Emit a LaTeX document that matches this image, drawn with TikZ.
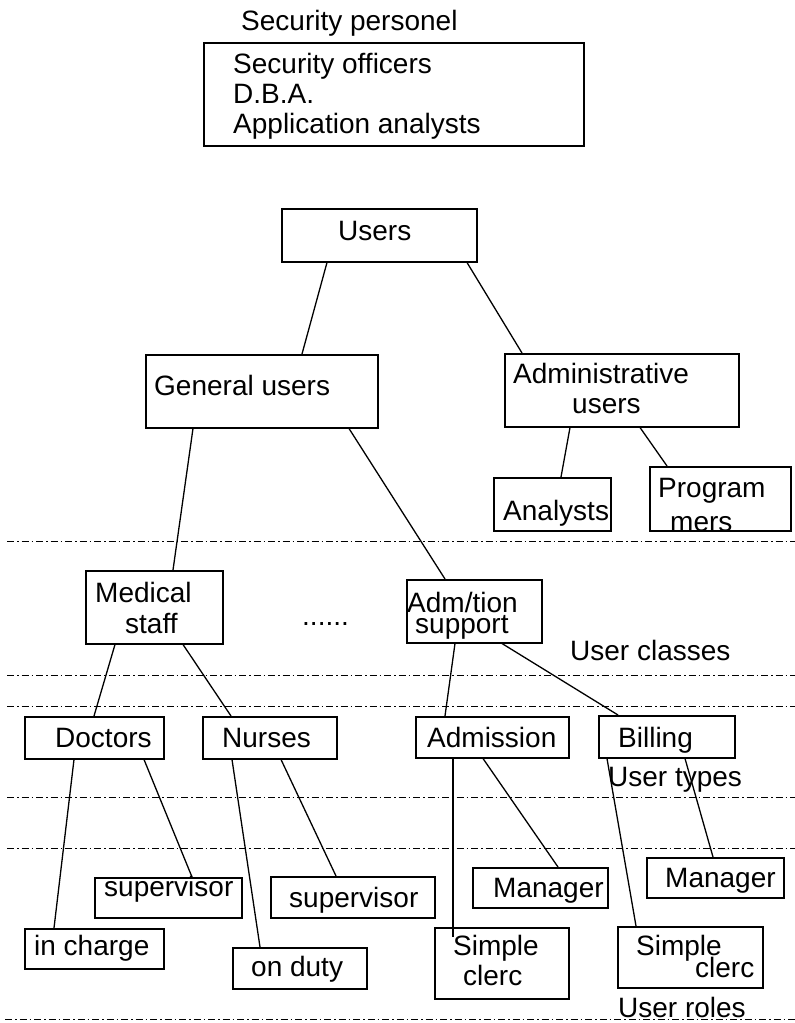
\documentclass[tikz,border=0pt]{standalone}
\usepackage{fontspec}
\setmainfont{Liberation Sans}
\usetikzlibrary{calc}
\newcommand\dfont{\fontsize{28}{30}\selectfont}
\begin{document}
\begin{tikzpicture}[x=1pt,y=-1pt,
  box/.style={draw,line width=1.5pt,inner sep=0pt,anchor=north west},
  txt/.style={anchor=base west,inner sep=0pt,font=\dfont},
  conn/.style={line width=1.3pt},
  sepline/.style={line width=0.8pt,dash pattern=on 7pt off 3pt on 1.5pt off 3pt}]
\useasboundingbox (0,0) rectangle (795,1023);
% separator lines
\draw[sepline] (7,541) -- (795,541);
\draw[sepline] (7,675) -- (795,675);
\draw[sepline] (7,706) -- (795,706);
\draw[sepline] (7,797) -- (795,797);
\draw[sepline] (7,848) -- (795,848);
\draw[sepline] (5,1019) -- (795,1019);
% boxes
\node[box,minimum width=380pt,minimum height=103pt] (secbox) at (203,42) {};
\node[box,minimum width=195pt,minimum height=53pt] (users) at (281,208) {};
\node[box,minimum width=232pt,minimum height=73pt] (gen) at (145,354) {};
\node[box,minimum width=234pt,minimum height=73pt] (admin) at (504,353) {};
\node[box,minimum width=117pt,minimum height=53pt] (analysts) at (493,477) {};
\node[box,minimum width=141pt,minimum height=64pt] (prog) at (649,466) {};
\node[box,minimum width=137pt,minimum height=73pt] (medical) at (85,570) {};
\node[box,minimum width=135pt,minimum height=63pt] (admtion) at (406,579) {};
\node[box,minimum width=139pt,minimum height=42pt] (doctors) at (24,716) {};
\node[box,minimum width=134pt,minimum height=42pt] (nurses) at (202,716) {};
\node[box,minimum width=153pt,minimum height=41pt] (admission) at (415,716) {};
\node[box,minimum width=136pt,minimum height=42pt] (billing) at (598,715) {};
\node[box,minimum width=147pt,minimum height=40pt] (supa) at (94,877) {};
\node[box,minimum width=164pt,minimum height=41pt] (supb) at (270,876) {};
\node[box,minimum width=139pt,minimum height=40pt] (incharge) at (24,928) {};
\node[box,minimum width=134pt,minimum height=41pt] (onduty) at (232,947) {};
\node[box,minimum width=135pt,minimum height=40pt] (mana) at (472,867) {};
\node[box,minimum width=134pt,minimum height=71pt] (clerca) at (434,927) {};
\node[box,minimum width=137pt,minimum height=40pt] (manb) at (646,857) {};
\node[box,minimum width=145pt,minimum height=61pt] (clercb) at (617,926) {};
% connectors
\draw[conn] ([xshift=46pt]users.south west) -- ([xshift=157pt]gen.north west);
\draw[conn] ([xshift=186pt]users.south west) -- ([xshift=18pt]admin.north west);
\draw[conn] ([xshift=48pt]gen.south west) -- ([xshift=88pt]medical.north west);
\draw[conn] ([xshift=204pt]gen.south west) -- ([xshift=39pt]admtion.north west);
\draw[conn] ([xshift=66pt]admin.south west) -- ([xshift=68pt]analysts.north west);
\draw[conn] ([xshift=136pt]admin.south west) -- ([xshift=18pt]prog.north west);
\draw[conn] ([xshift=30pt]medical.south west) -- ([xshift=70pt]doctors.north west);
\draw[conn] ([xshift=98pt]medical.south west) -- ([xshift=29pt]nurses.north west);
\draw[conn] ([xshift=49pt]admtion.south west) -- ([xshift=30pt]admission.north west);
\draw[conn] ([xshift=96pt]admtion.south west) -- ([xshift=20pt]billing.north west);
\draw[conn] ([xshift=50pt]doctors.south west) -- ([xshift=30pt]incharge.north west);
\draw[conn] ([xshift=120pt]doctors.south west) -- ([xshift=98pt]supa.north west);
\draw[conn] ([xshift=30pt]nurses.south west) -- ([xshift=28pt]onduty.north west);
\draw[conn] ([xshift=79pt]nurses.south west) -- ([xshift=66pt]supb.north west);
\draw[conn] ([xshift=38pt]admission.south west) -- ([xshift=19pt,yshift=-10pt]clerca.north west);
\draw[conn] ([xshift=68pt]admission.south west) -- ([xshift=86pt]mana.north west);
\draw[conn] ([xshift=9pt]billing.south west) -- ([xshift=19pt]clercb.north west);
\draw[conn] ([xshift=87pt]billing.south west) -- ([xshift=67pt]manb.north west);
% texts
\node[txt] (tsecp) at (241,30) {Security personel};
\node[txt] (tseco) at (233,73) {Security officers};
\node[txt] (tdba) at (233,103) {D.B.A.};
\node[txt] (tappa) at (233,133) {Application analysts};
\node[txt] (tusers) at (338,240) {Users};
\node[txt] (tgen) at (154,395) {General users};
\node[txt] (tadm1) at (513,383) {Administrative};
\node[txt] (tadm2) at (572,413) {users};
\node[txt] (tanal) at (503,520) {Analysts};
\node[txt] (tprog1) at (658,497) {Program};
\node[txt] (tprog2) at (670,531) {mers};
\node[txt] (tmed1) at (95,602) {Medical};
\node[txt] (tmed2) at (125,633) {staff};
\node[txt] (tdots) at (302,625) {......};
\node[txt] (tadt1) at (407,612) {Adm/tion};
\node[txt] (tadt2) at (415,633) {support};
\node[txt] (tclasses) at (570,660) {User classes};
\node[txt] (tdoc) at (55,747) {Doctors};
\node[txt] (tnur) at (222,747) {Nurses};
\node[txt] (tadmis) at (427,747) {Admission};
\node[txt] (tbill) at (618,747) {Billing};
\node[txt] (ttypes) at (608,786) {User types};
\node[txt] (tsupa) at (104,896) {supervisor};
\node[txt] (tsupb) at (289,907) {supervisor};
\node[txt] (tinch) at (34,955) {in charge};
\node[txt] (tond) at (251,976) {on duty};
\node[txt] (tmana) at (493,897) {Manager};
\node[txt] (tsimpa) at (453,955) {Simple};
\node[txt] (tclea) at (463,985) {clerc};
\node[txt] (tmanb) at (665,887) {Manager};
\node[txt] (tsimpb) at (636,955) {Simple};
\node[txt] (tcleb) at (695,977) {clerc};
\node[txt] (troles) at (618,1017) {User roles};
\end{tikzpicture}
\end{document}
